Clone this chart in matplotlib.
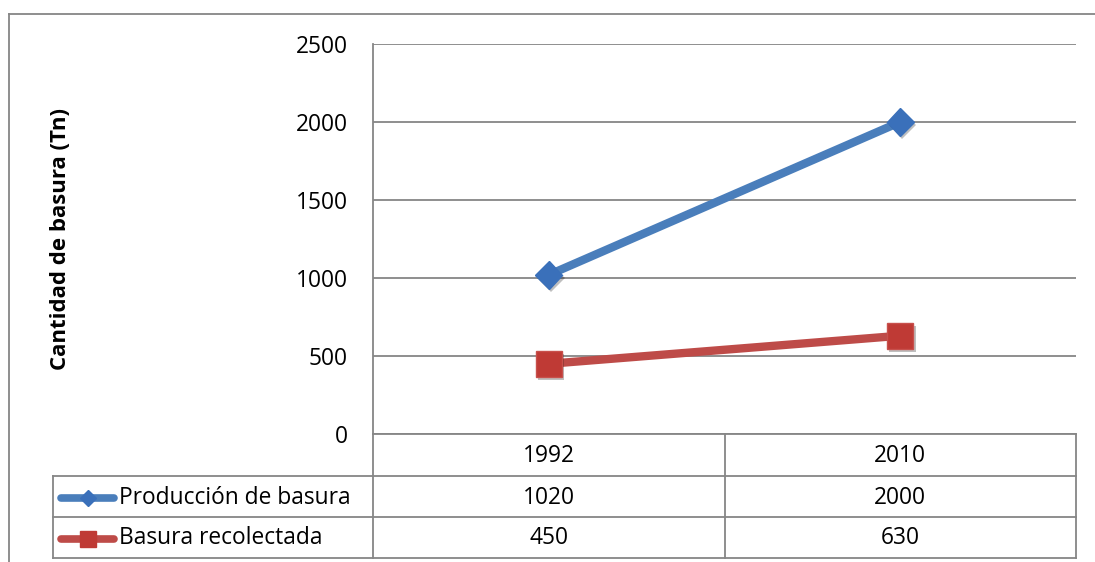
import matplotlib
matplotlib.use("Agg")
import matplotlib.pyplot as plt
import matplotlib.patheffects as pe

years = ["1992", "2010"]
produccion = [1020, 2000]
recolectada = [450, 630]
series_names = ["Producción de basura", "Basura recolectada"]
y_ticks = [0, 500, 1000, 1500, 2000, 2500]

W, H = 1095, 562
GRID = "#868686"
BLUE_LINE, BLUE_MARK = "#4A7EBB", "#3A70BA"
RED_LINE, RED_MARK = "#BE4B48", "#BF3A35"

plt.rcParams["font.family"] = ["Open Sans", "DejaVu Sans"]
FS = 16.4


def px_axes(fig, left, top, right, bottom):
    return fig.add_axes([left / W, 1 - bottom / H, (right - left) / W, (bottom - top) / H])


def main() -> None:
    fig = plt.figure(figsize=(W / 100, H / 100), dpi=100)

    # pixel-space layer for frame and data table
    bg = fig.add_axes([0, 0, 1, 1])
    bg.set_xlim(0, W)
    bg.set_ylim(H, 0)
    bg.axis("off")

    ax = px_axes(fig, 373, 44, 1076, 434)
    n = len(years)
    xs = [i + 0.5 for i in range(n)]
    ax.set_xlim(0, n)
    ax.set_ylim(0, 2500)
    ax.set_yticks(y_ticks)
    ax.set_yticklabels([str(t) for t in y_ticks], fontsize=FS)
    ax.tick_params(axis="y", length=0, pad=18)
    ax.set_xticks([])
    for s in ["top", "right", "bottom"]:
        ax.spines[s].set_visible(False)
    ax.spines["left"].set_color(GRID)
    ax.spines["left"].set_linewidth(1.3)
    ax.grid(axis="y", color=GRID, linewidth=1.3)
    ax.set_axisbelow(True)
    ax.patch.set_alpha(0)

    shadow = [pe.SimplePatchShadow(offset=(1.5, -2.5), shadow_rgbFace="black", alpha=0.25), pe.Normal()]
    ax.plot(xs, produccion, color=BLUE_LINE, linewidth=6, solid_capstyle="round", zorder=3)
    ax.plot(xs, produccion, linestyle="none", marker="D", markersize=14,
            markerfacecolor=BLUE_MARK, markeredgecolor=BLUE_MARK, zorder=4, path_effects=shadow)
    ax.plot(xs, recolectada, color=RED_LINE, linewidth=6, solid_capstyle="round", zorder=3)
    ax.plot(xs, recolectada, linestyle="none", marker="s", markersize=19,
            markerfacecolor=RED_MARK, markeredgecolor="#C8504C", zorder=4, path_effects=shadow)

    fig.text(61 / W, 1 - 239 / H, "Cantidad de basura (Tn)", rotation=90, fontsize=16,
             fontweight="bold", ha="center", va="center")

    # outer chart frame
    bg.plot([9, W], [14, 14], color=GRID, linewidth=1.3)
    bg.plot([9, 9], [14, H], color=GRID, linewidth=1.3)

    # data table under the axis
    x_edges = [ax.transData.transform((i, 0))[0] for i in range(n + 1)]
    left_edge = 53
    rows_y = [434, 476, 517, 558]
    bg.plot([x_edges[0], x_edges[-1]], [rows_y[0]] * 2, color=GRID, linewidth=1.3)
    for yy in rows_y[1:]:
        bg.plot([left_edge, x_edges[-1]], [yy, yy], color=GRID, linewidth=1.3)
    bg.plot([left_edge, left_edge], [rows_y[1], rows_y[-1]], color=GRID, linewidth=1.3)
    bg.plot([x_edges[0], x_edges[0]], [434, rows_y[-1]], color=GRID, linewidth=1.3)
    for xe in x_edges[1:]:
        bg.plot([xe, xe], [rows_y[0], rows_y[-1]], color=GRID, linewidth=1.3)

    def mid(a, b):
        return (a + b) / 2

    for i, yr in enumerate(years):
        bg.text(mid(x_edges[i], x_edges[i + 1]), mid(rows_y[0], rows_y[1]) + 1, yr,
                fontsize=FS, ha="center", va="center")
    table_series = [
        (series_names[0], produccion, BLUE_LINE, BLUE_MARK, "D", 8),
        (series_names[1], recolectada, RED_LINE, RED_MARK, "s", 11),
    ]
    for r, (name, vals, lc, mc, mk, ms) in enumerate(table_series):
        yc = mid(rows_y[r + 1], rows_y[r + 2]) + 1
        bg.plot([61, 114], [yc, yc], color=lc, linewidth=5.5, solid_capstyle="round")
        bg.plot([88], [yc], marker=mk, markersize=ms, color=mc, linestyle="none")
        bg.text(119, yc, name, fontsize=FS, ha="left", va="center")
        for i, v in enumerate(vals):
            bg.text(mid(x_edges[i], x_edges[i + 1]), yc, str(v),
                    fontsize=FS, ha="center", va="center")

    fig.savefig("out.png", dpi=100)


if __name__ == "__main__":
    main()
